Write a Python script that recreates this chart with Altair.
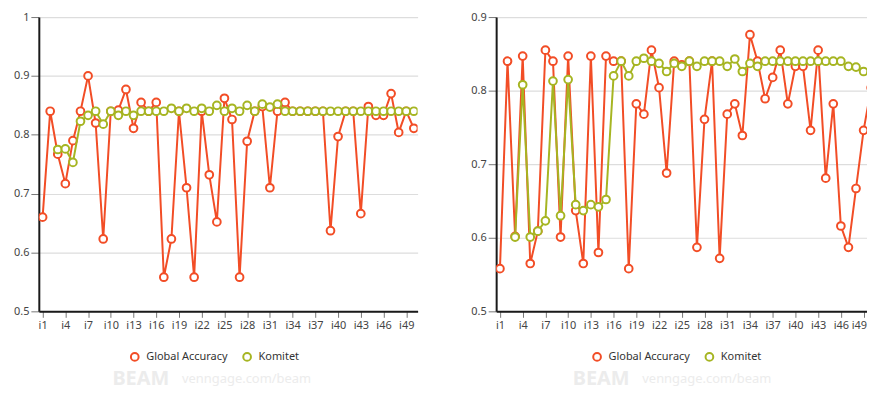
import altair as alt
import pandas as pd

items = [f"i{i}" for i in range(1, 51)]
tick_idx = list(range(1, 51, 3))
series_names = ["Global Accuracy", "Komitet"]
series_colors = ["#f24d26", "#a6b522"]

left_global = [0.66, 0.84, 0.767, 0.717, 0.79, 0.84, 0.9, 0.82, 0.623, 0.84,
               0.842, 0.877, 0.811, 0.855, 0.84, 0.855, 0.558, 0.623, 0.84, 0.71,
               0.558, 0.84, 0.732, 0.652, 0.862, 0.826, 0.558, 0.789, 0.84, 0.848,
               0.71, 0.84, 0.855, 0.84, 0.84, 0.84, 0.84, 0.84, 0.637, 0.797,
               0.84, 0.84, 0.666, 0.848, 0.833, 0.833, 0.87, 0.804, 0.84, 0.811]
left_komitet = [None, None, 0.775, 0.776, 0.753, 0.823, 0.833, 0.84, 0.818, 0.84,
                0.833, 0.84, 0.833, 0.84, 0.84, 0.84, 0.84, 0.845, 0.84, 0.845,
                0.84, 0.845, 0.84, 0.85, 0.84, 0.845, 0.84, 0.85, 0.84, 0.852,
                0.847, 0.852, 0.84, 0.84, 0.84, 0.84, 0.84, 0.84, 0.84, 0.84,
                0.84, 0.84, 0.84, 0.84, 0.84, 0.84, 0.84, 0.84, 0.84, 0.84]
right_global = [0.558, 0.84, 0.602, 0.847, 0.565, 0.609, 0.855, 0.84, 0.601, 0.847,
                0.637, 0.565, 0.847, 0.58, 0.847, 0.84, 0.84, 0.558, 0.782, 0.768,
                0.855, 0.804, 0.688, 0.84, 0.835, 0.84, 0.587, 0.761, 0.84, 0.572,
                0.768, 0.782, 0.739, 0.876, 0.84, 0.789, 0.818, 0.855, 0.782, 0.833,
                0.833, 0.746, 0.855, 0.681, 0.782, 0.616, 0.587, 0.667, 0.746, 0.804]
right_komitet = [None, None, 0.601, 0.808, 0.601, 0.609, 0.623, 0.813, 0.63, 0.815,
                 0.645, 0.637, 0.645, 0.642, 0.652, 0.82, 0.84, 0.82, 0.84, 0.844,
                 0.84, 0.837, 0.826, 0.837, 0.833, 0.84, 0.833, 0.84, 0.84, 0.84,
                 0.833, 0.843, 0.826, 0.837, 0.833, 0.84, 0.84, 0.84, 0.84, 0.84,
                 0.84, 0.84, 0.84, 0.84, 0.84, 0.84, 0.833, 0.832, 0.826, 0.824]

left_ticks = [0.5, 0.6, 0.7, 0.8, 0.9, 1.0]
right_ticks = [0.5, 0.6, 0.7, 0.8, 0.9]

FONT = "Noto Sans"
STEP = 381 / 50.0


def make_panel(glob, kom, ymax, yticks, legend_x, width, last_right):
    rows = []
    for i, it in enumerate(items):
        rows.append({"idx": i + 1, "item": it, "series": series_names[0], "value": glob[i]})
        rows.append({"idx": i + 1, "item": it, "series": series_names[1], "value": kom[i]})
    df = pd.DataFrame(rows)
    base = alt.Chart(df)
    xmax = 0.5 + width / STEP
    extra = {}
    if last_right:
        extra = dict(labelAlign=alt.expr("datum.value == 49 ? 'right' : 'center'"),
                     labelOffset=alt.expr("datum.value == 49 ? 3 : 0"))
    x = alt.X("idx:Q",
              scale=alt.Scale(domain=[0.5, xmax], nice=False, zero=False),
              axis=alt.Axis(values=tick_idx, title=None, labelAngle=0,
                            labelExpr="'i' + datum.value", labelOverlap=False,
                            tickSize=6, labelPadding=2, grid=False, **extra))
    y = alt.Y("value:Q",
              scale=alt.Scale(domain=[0.5, ymax], nice=False, zero=False),
              axis=alt.Axis(values=yticks, format=".1~f", title=None,
                            labelOverlap=False,
                            tickSize=8, labelPadding=2, grid=True))
    stroke = alt.Stroke("series:N",
                        scale=alt.Scale(domain=series_names, range=series_colors),
                        legend=alt.Legend(orient="none", legendX=legend_x, legendY=336,
                                          direction="horizontal", title=None,
                                          symbolType="circle", symbolSize=60,
                                          symbolStrokeWidth=2, symbolFillColor="white",
                                          labelFontSize=11, labelColor="#333",
                                          labelFont=FONT, columnPadding=11,
                                          labelOffset=6))
    layers = []
    for s in series_names:
        sub = base.transform_filter(alt.datum.series == s)
        layers.append(sub.mark_line(strokeWidth=2, clip=True).encode(x=x, y=y, stroke=stroke))
        layers.append(sub.mark_point(filled=True, fill="white", size=60,
                                     strokeWidth=2, opacity=1, clip=True)
                      .encode(x=x, y=y, stroke=stroke))
    return layers


def watermark(x_beam, x_url):
    wm1 = alt.Chart(pd.DataFrame({"t": ["BEAM"]})).mark_text(
        align="left", baseline="middle", fontSize=20, fontWeight="bold",
        font=FONT, color="#ececec").encode(
        text="t:N", x=alt.value(x_beam), y=alt.value(364))
    wm2 = alt.Chart(pd.DataFrame({"t": ["venngage.com/beam"]})).mark_text(
        align="left", baseline="middle", fontSize=13,
        font=FONT, color="#ececec").encode(
        text="t:N", x=alt.value(x_url), y=alt.value(364))
    return [wm1, wm2]


left = alt.layer(*watermark(74, 144),
                 *make_panel(left_global, left_komitet, 1.0, left_ticks, 91, 381, False)
                 ).properties(width=381, height=296)
right = alt.layer(*watermark(77, 147),
                  *make_panel(right_global, right_komitet, 0.9, right_ticks, 96, 373, True)
                  ).properties(width=373, height=296)

chart = alt.hconcat(left, right, spacing=53).resolve_legend(
    stroke="independent").resolve_scale(y="independent", x="independent").properties(
    padding={"left": 5, "top": 2, "right": 0, "bottom": 0}
).configure_view(stroke=None).configure_axis(
    labelFont=FONT, labelFontSize=11, labelColor="#444",
    domainColor="#1a1a1a", domainWidth=2, tickColor="#777",
    gridColor="#dddddd", gridWidth=1.2
)

chart.save("out.html", embed_options={"renderer": "svg", "actions": False})
